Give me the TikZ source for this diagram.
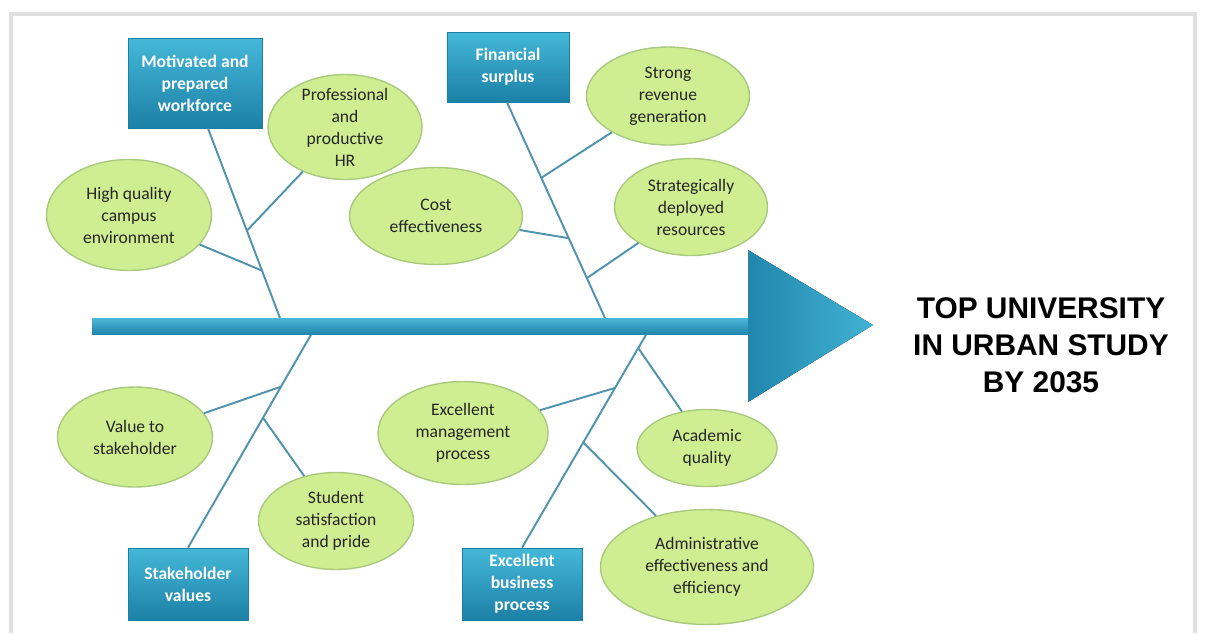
\documentclass[tikz,border=0pt]{standalone}
\usepackage{fontspec}
\setmainfont{Carlito}
\newfontfamily\titlefont{Liberation Sans}
\usetikzlibrary{shapes.geometric,calc}

\definecolor{boxtop}{HTML}{45B8D8}
\definecolor{boxbot}{HTML}{1C80A6}
\definecolor{leaffill}{HTML}{CFEE92}
\definecolor{leafedge}{HTML}{A9C97E}
\definecolor{bonecol}{HTML}{4F93AE}
\definecolor{spinetop}{HTML}{4CB6D8}
\definecolor{spinebot}{HTML}{2186AD}

\begin{document}
\begin{tikzpicture}[x=0.02cm,y=-0.02cm,
        goalbox/.style={draw=boxbot, top color=boxtop, bottom color=boxbot, text=white,
                        font=\fontsize{10}{12.5}\selectfont\bfseries, align=center, inner sep=0pt},
        cause/.style={ellipse, draw=leafedge, line width=0.8pt, fill=leaffill, text=black!85,
                      font=\fontsize{10}{12.5}\selectfont, align=center, inner sep=0pt},
        bone/.style={draw=bonecol, line width=1.1pt}]
                \useasboundingbox (0,0) rectangle (1205,633);
                \draw[gray!25, line width=2.5pt] (11,633) -- (11,14) -- (1195,14) -- (1195,633);
                % main groups
                \node[goalbox, minimum width=2.68cm, minimum height=1.8cm]  (work)  at (195,83)  {Motivated and\\prepared\\workforce};
                \node[goalbox, minimum width=2.44cm, minimum height=1.4cm]  (money) at (508,67)  {Financial\\surplus};
                \node[goalbox, minimum width=2.4cm,  minimum height=1.44cm] (stake) at (188,584) {Stakeholder\\values};
                \node[goalbox, minimum width=2.4cm,  minimum height=1.44cm] (biz)   at (522,584) {Excellent\\business\\process};
                % causes
                \node[cause, minimum width=3.3cm,  minimum height=2.22cm] (campus)  at (129,215) {High quality\\campus\\environment};
                \node[cause, minimum width=3.08cm, minimum height=2.1cm, inner ysep=-3pt] (hr) at (345,127) {Professional\\and\\productive\\HR};
                \node[cause, minimum width=3.46cm, minimum height=1.94cm] (cost)    at (436,216) {Cost\\effectiveness};
                \node[cause, minimum width=3.26cm, minimum height=1.96cm] (revenue) at (668,96)  {Strong\\revenue\\generation};
                \node[cause, minimum width=3.06cm, minimum height=1.94cm] (deploy)  at (691,207) {Strategically\\deployed\\resources};
                \node[cause, minimum width=3.1cm,  minimum height=2.0cm]  (value)   at (135,437) {Value to\\stakeholder};
                \node[cause, minimum width=3.1cm,  minimum height=1.94cm] (pride)   at (336,521) {Student\\satisfaction\\and pride};
                \node[cause, minimum width=3.4cm,  minimum height=2.06cm] (manage)  at (463,433) {Excellent\\management\\process};
                \node[cause, minimum width=2.8cm,  minimum height=1.54cm] (academic) at (707,448) {Academic\\quality};
                \node[cause, minimum width=4.26cm, minimum height=2.3cm]  (admin)   at (707,567) {Administrative\\effectiveness and\\efficiency};
                % bones
                \coordinate (tl0) at ($(work.south)+(13,0)$);
                \coordinate (tl)  at (280,318);
                \coordinate (tr0) at ($(money.south)+(-1,0)$);
                \coordinate (tr)  at (605,318);
                \coordinate (bl)  at (312,333);
                \coordinate (br)  at (647,333);
                \coordinate (jhr)     at ($(tl0)!0.54!(tl)$);
                \coordinate (jcampus) at ($(tl0)!0.75!(tl)$);
                \coordinate (jrev)    at ($(tr0)!0.35!(tr)$);
                \coordinate (jcost)   at ($(tr0)!0.63!(tr)$);
                \coordinate (jdeploy) at ($(tr0)!0.815!(tr)$);
                \coordinate (jvalue)  at ($(bl)!0.25!(stake.north)$);
                \coordinate (jpride)  at ($(bl)!0.395!(stake.north)$);
                \coordinate (jacad)   at ($(br)!0.07!(biz.north)$);
                \coordinate (jmanage) at ($(br)!0.256!(biz.north)$);
                \coordinate (jadmin)  at ($(br)!0.51!(biz.north)$);
                \draw[bone] (tl0) -- (tl);
                \draw[bone] (tr0) -- (tr);
                \draw[bone] (bl) -- (stake.north);
                \draw[bone] (br) -- (biz.north);
                \draw[bone] (hr) -- (jhr);
                \draw[bone] (campus) -- (jcampus);
                \draw[bone] (revenue) -- (jrev);
                \draw[bone] (cost) -- (jcost);
                \draw[bone] (deploy) -- (jdeploy);
                \draw[bone] (value) -- (jvalue);
                \draw[bone] (pride) -- (jpride);
                \draw[bone] (academic) -- (jacad);
                \draw[bone] (manage) -- (jmanage);
                \draw[bone] (admin) -- (jadmin);
                % spine and head
                \fill[top color=spinetop, bottom color=spinebot] (92,318) rectangle (760,334);
                \fill[left color=spinebot, right color=boxtop!90!spinebot] (748,250) -- (873,325) -- (748,402) -- cycle;
                \node[font=\titlefont\bfseries\fontsize{17}{21}\selectfont, align=center] (aim) at (1041,345) {TOP UNIVERSITY\\IN URBAN STUDY\\BY 2035};
\end{tikzpicture}
\end{document}
